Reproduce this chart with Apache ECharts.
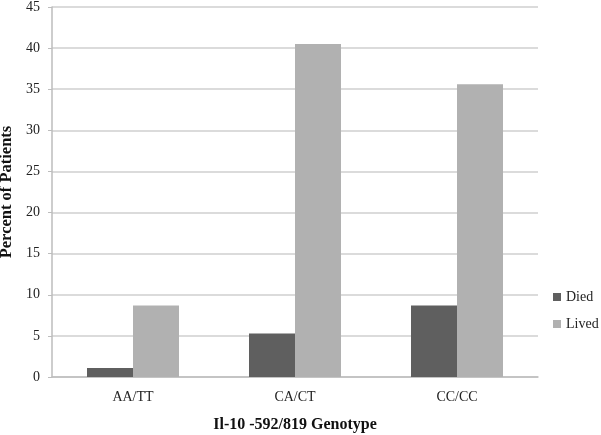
<!DOCTYPE html>
<html>
<head>
<meta charset="utf-8">
<script src="https://cdn.jsdelivr.net/npm/echarts@6/dist/echarts.min.js"></script>
<style>
html,body{margin:0;padding:0;background:#fff;}
#chart{width:601px;height:435px;}
</style>
</head>
<body>
<div id="chart"></div>
<script>
// genotype categories and percent values
var genotypes = ['AA/TT', 'CA/CT', 'CC/CC'];
var died = [1.1, 5.3, 8.7];
var lived = [8.7, 40.5, 35.6];
var seriesNames = ['Died', 'Lived'];

var chart = echarts.init(document.getElementById('chart'));
var serif = '"Liberation Serif", "Times New Roman", serif';

var option = {
    animation: false,
    textStyle: { fontFamily: serif },
    color: ['#5f5f5f', '#b1b1b1'],
    grid: { left: 52, right: 63, top: 7, bottom: 58, outerBoundsMode: 'none', containLabel: false },
    legend: {
        orient: 'vertical',
        left: 548,
        top: 285,
        itemWidth: 8,
        itemHeight: 8,
        itemGap: 13,
        icon: 'rect',
        textStyle: { color: '#222', fontSize: 14, fontFamily: serif },
        data: seriesNames
    },
    xAxis: {
        type: 'category',
        data: genotypes,
        name: 'Il-10 -592/819 Genotype',
        nameLocation: 'middle',
        nameGap: 40,
        nameTextStyle: { fontSize: 16, fontWeight: 'bold', color: '#111', fontFamily: serif },
        axisLine: { lineStyle: { color: '#bdbdbd', width: 1.5 } },
        axisTick: { show: false },
        axisLabel: { color: '#222', fontSize: 14, margin: 13, fontFamily: serif }
    },
    yAxis: {
        type: 'value',
        min: 0,
        max: 45,
        interval: 5,
        name: 'Percent of Patients',
        nameLocation: 'middle',
        nameGap: 35,
        nameTextStyle: { fontSize: 16.5, fontWeight: 'bold', color: '#111', fontFamily: serif },
        axisLine: { show: true, lineStyle: { color: '#bdbdbd', width: 1.5 } },
        axisTick: { show: true, length: 4, lineStyle: { color: '#bdbdbd' } },
        axisLabel: { color: '#222', fontSize: 14, margin: 12, fontFamily: serif },
        splitLine: { lineStyle: { color: '#cfcfcf', width: 1.5 } }
    },
    series: [
        {
            name: seriesNames[0],
            type: 'bar',
            data: died,
            barWidth: 46,
            barGap: '0%'
        },
        {
            name: seriesNames[1],
            type: 'bar',
            data: lived,
            barWidth: 46,
            barGap: '0%'
        }
    ]
};
chart.setOption(option);
</script>
</body>
</html>
